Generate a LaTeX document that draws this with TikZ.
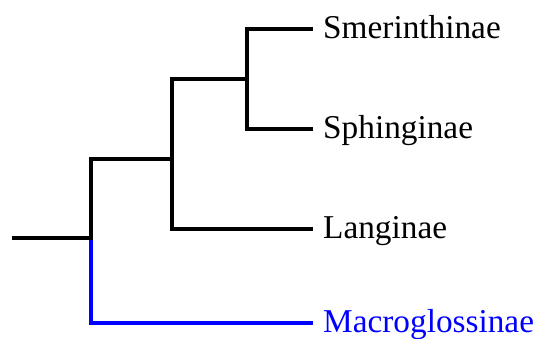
\documentclass[tikz,border=0pt]{standalone}
\usepackage{fontspec}
\setmainfont{Liberation Serif}
\begin{document}
\begin{tikzpicture}[x=1pt,y=-1pt,
  branch/.style={line width=4pt, line join=miter, black},
  bluebranch/.style={branch, draw={rgb,255:red,0;green,0;blue,255}},
  leaf/.style={anchor=base west, inner sep=0pt, font=\fontsize{33.3}{36}\selectfont}]
\useasboundingbox (0,0) rectangle (540,338);
\coordinate (r0) at (12,238);
\coordinate (n1) at (91,238);
\coordinate (n1t) at (91,159);
\coordinate (n1b) at (91,323);
\coordinate (n2) at (172,159);
\coordinate (n2t) at (172,79);
\coordinate (n2b) at (172,229);
\coordinate (n3) at (247,79);
\coordinate (n3t) at (247,29);
\coordinate (n3b) at (247,129);
\node[leaf] (smer) at (323,38) {Smerinthinae};
\node[leaf] (sphi) at (323,138) {Sphinginae};
\node[leaf] (lang) at (323,238) {Langinae};
\node[leaf, text={rgb,255:red,0;green,0;blue,255}] (macr) at (323,332) {Macroglossinae};
\coordinate (e1) at (313,29);
\coordinate (e2) at (313,129);
\coordinate (e3) at (313,229);
\coordinate (e4) at (313,323);
\draw[branch] (r0) -- (n1) -- (n1t) -- (n2t |- n1t) -- (n2t) -- (n3t |- n2t) -- (n3t) -- (e1);
\draw[branch] (n3) -- (n3b) -- (e2);
\draw[branch] (n2) -- (n2b) -- (e3);
\draw[bluebranch] (91,240) -- (n1b) -- (e4);
\end{tikzpicture}
\end{document}
